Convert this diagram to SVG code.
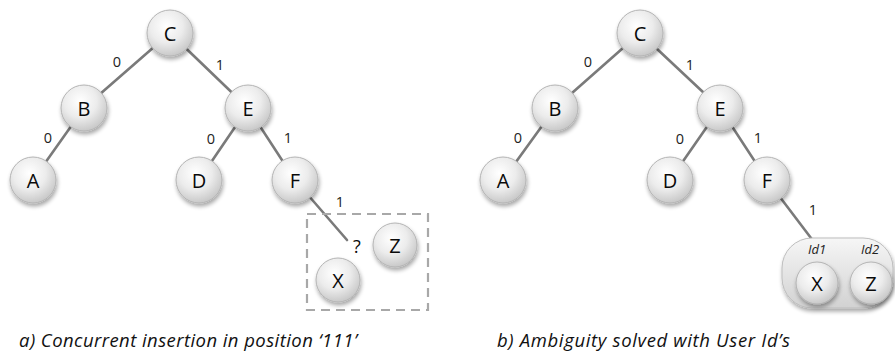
<svg xmlns="http://www.w3.org/2000/svg" width="895" height="356" viewBox="0 0 895 356">
  <style>
    .edge { stroke: #7a7a7a; stroke-width: 2.6; fill: none; stroke-linecap: round; }
    .bit { font-family: "Open Sans", "Liberation Sans", sans-serif; font-size: 14.5px; fill: #222; text-anchor: middle; }
    .lbl { font-family: "Open Sans", "Liberation Sans", sans-serif; font-size: 20px; fill: #0a0a0a; text-anchor: middle; dominant-baseline: central; }
    .node { fill: url(#ball); stroke: #b4b4b4; stroke-width: 1; filter: url(#shadow); }
    .uid { font-family: "Open Sans", "Liberation Sans", sans-serif; font-style: italic; font-size: 13px; fill: #222; text-anchor: middle; }
    .cap { font-family: "Open Sans", "Liberation Sans", sans-serif; font-style: italic; font-size: 18.5px; fill: #111; }
  </style>
  <defs>
    <radialGradient id="ball" cx="0.42" cy="0.35" r="0.65">
      <stop offset="0" stop-color="#ffffff"/>
      <stop offset="0.55" stop-color="#ececec"/>
      <stop offset="1" stop-color="#c9c9c9"/>
    </radialGradient>
    <linearGradient id="tray" x1="0" y1="0" x2="0" y2="1">
      <stop offset="0" stop-color="#f6f6f6"/>
      <stop offset="1" stop-color="#d2d2d2"/>
    </linearGradient>
    <filter id="shadow" x="-30%" y="-30%" width="170%" height="170%">
      <feGaussianBlur in="SourceAlpha" stdDeviation="2"/>
      <feOffset dx="1" dy="3" result="b"/>
      <feComponentTransfer><feFuncA type="linear" slope="0.35"/></feComponentTransfer>
      <feMerge><feMergeNode/><feMergeNode in="SourceGraphic"/></feMerge>
    </filter>
  </defs>

  <!-- connectors -->
  <g id="connectors">
    <line class="edge" x1="170" y1="33" x2="84" y2="108"/>
    <line class="edge" x1="170" y1="33" x2="248" y2="108"/>
    <line class="edge" x1="84" y1="108" x2="33" y2="180"/>
    <line class="edge" x1="248" y1="108" x2="199" y2="180"/>
    <line class="edge" x1="248" y1="108" x2="295" y2="180"/>
    <line class="edge" x1="295" y1="180" x2="347" y2="240"/>

    <line class="edge" x1="640" y1="33" x2="555" y2="108"/>
    <line class="edge" x1="640" y1="33" x2="720" y2="108"/>
    <line class="edge" x1="555" y1="108" x2="503" y2="180"/>
    <line class="edge" x1="720" y1="108" x2="670" y2="180"/>
    <line class="edge" x1="720" y1="108" x2="767" y2="180"/>
    <line class="edge" x1="767" y1="180" x2="814" y2="242"/>
  </g>

  <!-- edge bits -->
  <g id="bits">
    <text class="bit" x="117" y="67">0</text>
    <text class="bit" x="220" y="70">1</text>
    <text class="bit" x="48" y="143">0</text>
    <text class="bit" x="211" y="144">0</text>
    <text class="bit" x="288" y="143">1</text>
    <text class="bit" x="340" y="207">1</text>

    <text class="bit" x="588" y="67">0</text>
    <text class="bit" x="690" y="70">1</text>
    <text class="bit" x="518" y="143">0</text>
    <text class="bit" x="680" y="144">0</text>
    <text class="bit" x="758" y="143">1</text>
    <text class="bit" x="813" y="215">1</text>
  </g>

  <!-- a) concurrent insertion -->
  <g id="a-conflict">
    <rect x="307" y="214" width="121" height="96" fill="none" stroke="#a8a8a8" stroke-width="2.2" stroke-dasharray="9 6"/>
    <text class="lbl" x="357" y="246" style="font-size:18px">?</text>
  </g>
  <g id="a-C"><circle class="node" cx="170" cy="33" r="23"/><text class="lbl" x="170" y="33">C</text></g>
  <g id="a-B"><circle class="node" cx="84" cy="108" r="23"/><text class="lbl" x="84" y="108">B</text></g>
  <g id="a-E"><circle class="node" cx="248" cy="108" r="23"/><text class="lbl" x="248" y="108">E</text></g>
  <g id="a-A"><circle class="node" cx="33" cy="180" r="23"/><text class="lbl" x="33" y="180">A</text></g>
  <g id="a-D"><circle class="node" cx="199" cy="180" r="23"/><text class="lbl" x="199" y="180">D</text></g>
  <g id="a-F"><circle class="node" cx="295" cy="180" r="23"/><text class="lbl" x="295" y="180">F</text></g>
  <g id="a-Z"><circle class="node" cx="395" cy="245" r="22"/><text class="lbl" x="395" y="245">Z</text></g>
  <g id="a-X"><circle class="node" cx="338" cy="280" r="22"/><text class="lbl" x="338" y="280">X</text></g>

  <!-- b) resolved with user ids -->
  <g id="b-C"><circle class="node" cx="640" cy="33" r="23"/><text class="lbl" x="640" y="33">C</text></g>
  <g id="b-B"><circle class="node" cx="555" cy="108" r="23"/><text class="lbl" x="555" y="108">B</text></g>
  <g id="b-E"><circle class="node" cx="720" cy="108" r="23"/><text class="lbl" x="720" y="108">E</text></g>
  <g id="b-A"><circle class="node" cx="503" cy="180" r="23"/><text class="lbl" x="503" y="180">A</text></g>
  <g id="b-D"><circle class="node" cx="670" cy="180" r="23"/><text class="lbl" x="670" y="180">D</text></g>
  <g id="b-F"><circle class="node" cx="767" cy="180" r="23"/><text class="lbl" x="767" y="180">F</text></g>
  <g id="b-tray">
    <rect x="782" y="238" width="111" height="70" rx="30" fill="url(#tray)" stroke="#bdbdbd" stroke-width="1" filter="url(#shadow)"/>
    <text class="uid" x="817" y="254">Id1</text>
    <text class="uid" x="870" y="254">Id2</text>
  </g>
  <g id="b-X"><circle class="node" cx="817" cy="283" r="21"/><text class="lbl" x="817" y="283">X</text></g>
  <g id="b-Z"><circle class="node" cx="871" cy="283" r="21"/><text class="lbl" x="871" y="283">Z</text></g>

  <!-- captions -->
  <text class="cap" x="19" y="347" textLength="338" lengthAdjust="spacing">a) Concurrent insertion in position ‘111’</text>
  <text class="cap" x="497" y="347" textLength="293" lengthAdjust="spacing">b) Ambiguity solved with User Id’s</text>
</svg>
